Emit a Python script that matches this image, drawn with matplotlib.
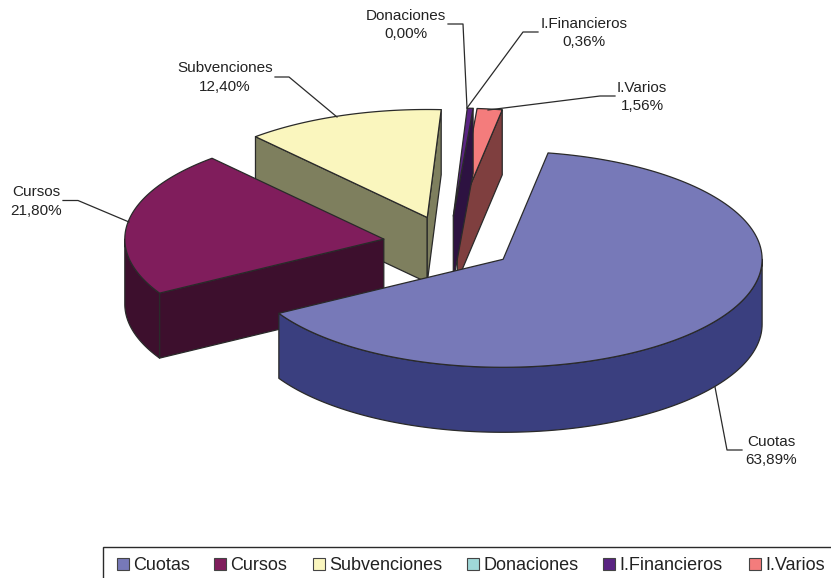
import numpy as np
import matplotlib
matplotlib.use('Agg')
import matplotlib.pyplot as plt
from matplotlib.patches import Polygon, Rectangle

plt.rcParams['font.family'] = ['Liberation Sans', 'DejaVu Sans']

categories = ['Cuotas', 'Cursos', 'Subvenciones', 'Donaciones', 'I.Financieros', 'I.Varios']
values = [63.89, 21.80, 12.40, 0.00, 0.36, 1.56]
value_labels = ['63,89%', '21,80%', '12,40%', '0,00%', '0,36%', '1,56%']
top_colors = ['#7779B8', '#801D5C', '#FAF6BE', '#9FD8D8', '#5A2482', '#F47C7C']
side_colors = ['#3A3F7F', '#3D0F2D', '#7E7F5E', '#4F6C6C', '#2D1241', '#7F3F3F']

# pie geometry in pixels
CX, CY = 449, 243.5
RX, RY = 259, 108
DEPTH = 65
EXPLODE = 0.255
START = 10
EDGE = '#2a2a2a'
TEXT = '#222222'


def rim(t, tip):
    t = np.radians(t)
    return np.column_stack([tip[0] + RX * np.sin(t), tip[1] - RY * np.cos(t)])


def down(pts):
    return pts + [0, DEPTH]


def add(ax, pts, color):
    ax.add_patch(Polygon(pts, closed=True, fc=color, ec=EDGE, lw=0.9, joinstyle='round'))


def draw_slice(ax, t1, t2, top, side):
    mid = np.radians((t1 + t2) / 2)
    tip = np.array([CX + EXPLODE * RX * np.sin(mid), CY - EXPLODE * RY * np.cos(mid)])
    # cut walls, only the ones turned to the viewer
    for t, normal in ((t1, t1 - 90), (t2, t2 + 90)):
        if np.cos(np.radians(normal)) < 0:
            edge = rim(t, tip)[0]
            add(ax, [tip, edge, edge + [0, DEPTH], tip + [0, DEPTH]], side)
    # outer wall on the front half of the rim
    lo, hi = max(t1, 90), min(t2, 270)
    if hi > lo:
        arc = rim(np.linspace(lo, hi, 120), tip)
        add(ax, np.vstack([arc, down(arc)[::-1]]), side)
    arc = rim(np.linspace(t1, t2, 160), tip)
    add(ax, np.vstack([[tip], arc]), top)


fig = plt.figure(figsize=(8.31, 5.78), dpi=100)
ax = fig.add_axes([0, 0, 1, 1])
ax.set_xlim(0, 831)
ax.set_ylim(578, 0)
ax.axis('off')

shares = np.array(values) / sum(values) * 360
ends = START + np.cumsum(shares)
starts = ends - shares
for i in [5, 4, 3, 2, 1, 0]:
    if values[i] > 0:
        draw_slice(ax, starts[i], ends[i], top_colors[i], side_colors[i])

# data labels and their leader lines
label_pos = [(771, 451), (36.5, 201.5), (225, 77.5), (406, 25), (584, 33), (642, 97)]
leaders = [
    [(715, 387), (727, 450), (742, 450)],
    [(129, 222), (78, 200.5), (63, 200.5)],
    [(337, 117), (289, 77), (275, 77)],
    [(467, 108), (463, 24), (448, 24)],
    [(467, 108), (523, 32), (538, 32)],
    [(488, 110), (600, 96), (615, 96)],
]
for name, lab, pos, line in zip(categories, value_labels, label_pos, leaders):
    xs, ys = zip(*line)
    ax.plot(xs, ys, color=EDGE, lw=0.9)
    ax.text(pos[0], pos[1], f'{name}\n{lab}', ha='center', va='center', fontsize=11,
            linespacing=1.4, color=TEXT)

# legend box, cut off by the right and bottom edges
ax.add_patch(Rectangle((103, 547), 740, 40, fc='white', ec=EDGE, lw=1.0, clip_on=True))
legend_x = [117, 214, 313, 467, 603, 749]
for x, name, top in zip(legend_x, categories, top_colors):
    ax.add_patch(Rectangle((x, 558), 11.5, 11.5, fc=top, ec='#444444', lw=0.8))
    ax.text(x + 16.5, 565, name, ha='left', va='center', fontsize=13, color=TEXT)

fig.savefig('out.png', dpi=100)
plt.close(fig)
